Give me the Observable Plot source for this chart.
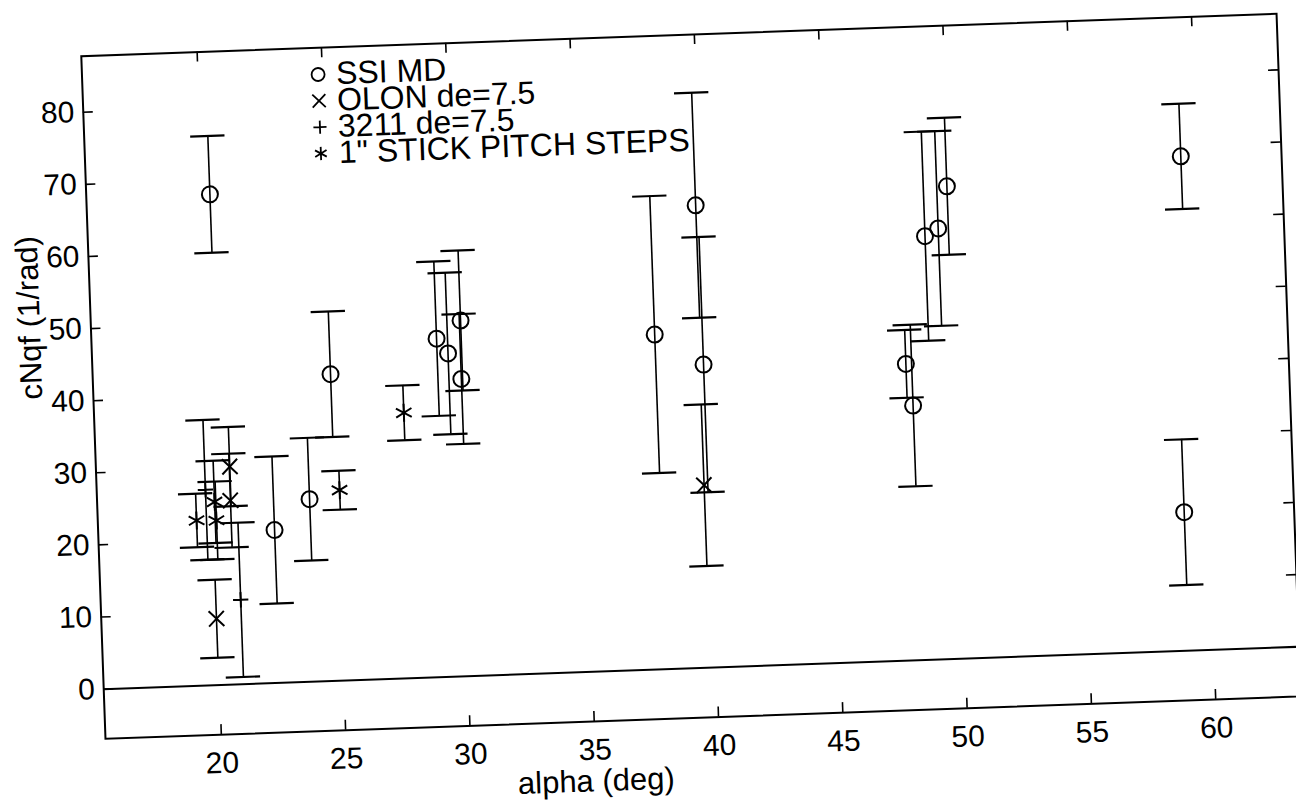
<!DOCTYPE html>
<html><head><meta charset="utf-8">
<script src="https://cdn.jsdelivr.net/npm/d3@7"></script>
<script src="https://cdn.jsdelivr.net/npm/@observablehq/plot@0.6"></script>
<style>
html,body{margin:0;padding:0;background:#fff;overflow:hidden;width:1296px;height:802px}
</style>
</head><body><div id="chart"></div>
<script>
// SSI MD (circles)
const ssiAlpha = [20.31, 22.43, 23.88, 24.90, 29.21, 29.65, 30.20, 30.15, 37.98, 39.81, 39.90, 48.03, 48.26, 48.98, 49.52, 49.93, 59.37, 59.00];
const ssiValue = [68.0, 21.2, 25.3, 42.5, 46.9, 44.8, 49.3, 41.2, 46.4, 64.1, 42.0, 41.1, 35.3, 58.7, 59.7, 65.5, 68.5, 19.2];
const ssiErr   = [8.1, 10.2, 8.5, 8.7, 10.7, 11.2, 9.7, 9.0, 19.2, 15.6, 17.7, 4.7, 11.2, 14.5, 13.5, 9.5, 7.3, 10.1];
// OLON de=7.5 (x)
const olonAlpha = [20.72, 20.70, 19.97, 39.75];
const olonValue = [30.2, 25.5, 9.2, 25.3];
const olonErr   = [5.5, 6.5, 5.4, 11.2];
// 3211 de=7.5 (+)
const m3211Alpha = [19.71, 20.97];
const m3211Value = [27.1, 11.7];
const m3211Err   = [9.7, 10.7];
// 1" stick pitch steps (*)
const stickAlpha = [19.31, 20.06, 20.11, 25.10, 27.79];
const stickValue = [22.9, 25.4, 22.8, 26.4, 36.8];
const stickErr   = [3.7, 5.7, 5.4, 2.7, 3.8];

const xTicks = [20, 25, 30, 35, 40, 45, 50, 55, 60];
const yTicks = [0, 10, 20, 30, 40, 50, 60, 70, 80];
const legendLabels = ["SSI MD", "OLON de=7.5", "3211 de=7.5", "1\" STICK PITCH STEPS"];
const legendSymbols = ["circle", "times", "plus", "asterisk"];
const xLabel = "alpha (deg)";
const yLabel = "cNqf (1/rad)";

const rows = (a, v, e) => a.map((x, i) => ({a: x, v: v[i], e: e[i]}));
const series = [
  {data: rows(ssiAlpha, ssiValue, ssiErr), symbol: "circle", r: 8},
  {data: rows(olonAlpha, olonValue, olonErr), symbol: "times", r: 7},
  {data: rows(m3211Alpha, m3211Value, m3211Err), symbol: "plus", r: 5},
  {data: rows(stickAlpha, stickValue, stickErr), symbol: "asterisk", r: 8.5}
];
const legendR = [6.5, 6, 4.3, 6.3];

const W = 1296, H = 802, ML = 92.5, MT = 34.3, MR = 7.5, MB = 84.7;
const FW = W - ML - MR, FH = H - MT - MB;
const cap = 0.69;

const marks = [];
marks.push(Plot.ruleY([0], {stroke: "black", strokeWidth: 2}));
for (const s of series) {
  marks.push(Plot.ruleX(s.data, {x: "a", y1: d => d.v - d.e, y2: d => d.v + d.e, stroke: "black", strokeWidth: 1.6}));
  marks.push(Plot.ruleY(s.data, {y: d => d.v + d.e, x1: d => d.a - cap, x2: d => d.a + cap, stroke: "black", strokeWidth: 2.2}));
  marks.push(Plot.ruleY(s.data, {y: d => d.v - d.e, x1: d => d.a - cap, x2: d => d.a + cap, stroke: "black", strokeWidth: 2.2}));
  marks.push(Plot.dot(s.data, {x: "a", y: "v", symbol: s.symbol, r: s.r, stroke: "black", fill: "none", strokeWidth: 2}));
}
// inward ticks on all four sides
marks.push(Plot.tickY(yTicks, {y: d => d, insetRight: FW - 10, stroke: "black", strokeWidth: 1.6}));
marks.push(Plot.tickY(yTicks, {y: d => d, insetLeft: FW - 10, stroke: "black", strokeWidth: 1.6}));
marks.push(Plot.tickX(xTicks, {x: d => d, insetTop: FH - 10, stroke: "black", strokeWidth: 1.6}));
marks.push(Plot.tickX(xTicks, {x: d => d, insetBottom: FH - 10, stroke: "black", strokeWidth: 1.6}));
marks.push(Plot.frame({stroke: "black", strokeWidth: 2}));
marks.push(Plot.axisX({ticks: xTicks, tickSize: 0, tickPadding: 17, fontSize: 30, label: null, tickFormat: d => String(d)}));
marks.push(Plot.axisY({ticks: yTicks, tickSize: 0, tickPadding: 9, fontSize: 30, label: null, tickFormat: d => String(d)}));
marks.push(Plot.text([xLabel], {frameAnchor: "bottom", dx: -109, dy: 60, lineAnchor: "middle", fontSize: 31, fill: "black"}));
marks.push(Plot.text([yLabel], {frameAnchor: "left", dx: -61, rotate: -90, lineAnchor: "middle", fontSize: 31, fill: "black"}));
// legend
legendLabels.forEach((lab, i) => {
  const dy = 26.7 + 26.35 * i;
  marks.push(Plot.dot([lab], {frameAnchor: "top-left", dx: 236, dy, symbol: legendSymbols[i], r: legendR[i], stroke: "black", fill: "none", strokeWidth: 1.8}));
  marks.push(Plot.text([lab], {frameAnchor: "top-left", dx: 254, dy, textAnchor: "start", lineAnchor: "middle", fontSize: 32, fill: "black"}));
});

const svg = Plot.plot({
  width: W, height: H,
  marginLeft: ML, marginTop: MT, marginRight: MR, marginBottom: MB,
  x: {domain: [15.34, 63.42]},
  y: {domain: [-6.88, 87.77]},
  style: {background: "white", color: "black", fontFamily: "'Liberation Sans', Arial, Helvetica, sans-serif", overflow: "visible"},
  marks
});
svg.style.transformOrigin = `${ML + FW / 2}px ${MT + FH / 2}px`;
svg.style.transform = "rotate(-2.03deg)";
document.getElementById("chart").appendChild(svg);
</script>
</body></html>
